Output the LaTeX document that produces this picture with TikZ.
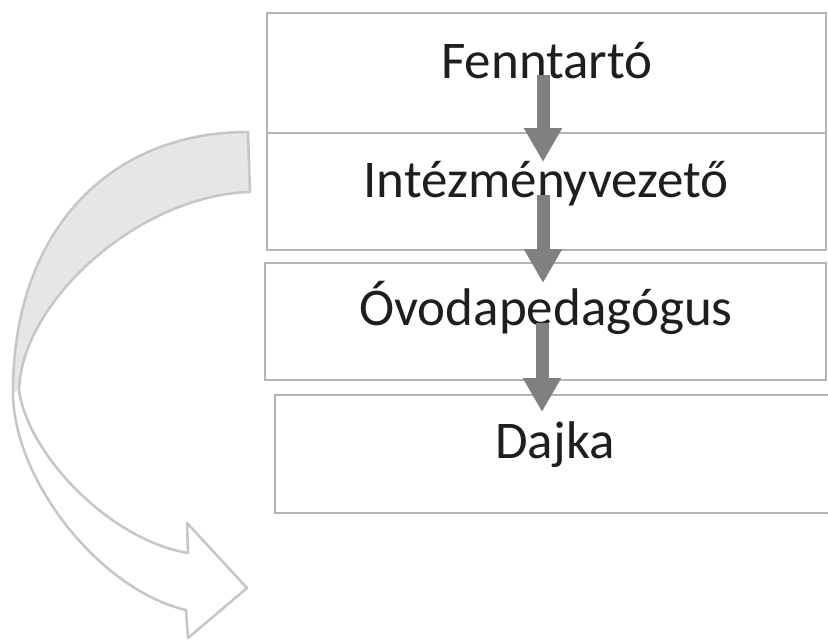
\documentclass[tikz,border=0pt]{standalone}
\usepackage{fontspec}
\setmainfont{Carlito}
\usetikzlibrary{arrows.meta,calc}
\definecolor{boxline}{HTML}{B4B4B4}
\definecolor{arrgray}{HTML}{808080}
\definecolor{curveline}{HTML}{C6C6C6}
\definecolor{bandfill}{HTML}{E6E6E6}
\definecolor{txt}{HTML}{1E1E1E}
\tikzset{
  levelbox/.style={draw=boxline, line width=2.6pt, fill=white, inner sep=0pt},
  leveltext/.style={font=\fontsize{53}{60}\selectfont, text=txt, anchor=base, inner sep=0pt},
  downarr/.style={draw=arrgray, line width=13pt, -{Triangle[width=36pt,length=34pt]}},
  curvearrow/.style={draw=curveline, line width=2.5pt, line join=round}
}
\begin{document}
\begin{tikzpicture}[x=1pt,y=-1pt]
\useasboundingbox (0,0) rectangle (828,642);
\clip (0,0) rectangle (828,642);
\fill[white] (0,0) rectangle (828,642);

% curved arrow
\fill[white] (248,132) .. controls (110,132) and (13,230) .. (13,392)
  .. controls (13,480) and (100,590) .. (186,610) -- (188,638) -- (247,588)
  -- (187,523) -- (188,553) .. controls (110,540) and (28,455) .. (19,390)
  .. controls (22,300) and (140,195) .. (250,192) -- cycle;
\fill[bandfill] (248,132) .. controls (110,132) and (13,230) .. (13,392)
  -- (19,390) .. controls (22,300) and (140,195) .. (250,192) -- cycle;
\draw[curvearrow] (248,132) .. controls (110,132) and (13,230) .. (13,392)
  .. controls (13,480) and (100,590) .. (186,610) -- (188,638) -- (247,588)
  -- (187,523) -- (188,553) .. controls (110,540) and (28,455) .. (19,390)
  .. controls (22,300) and (140,195) .. (250,192) -- cycle;

% boxes
\node[levelbox, minimum width=559pt, minimum height=120pt] (b1) at (546.5,73) {};
\node[levelbox, minimum width=559pt, minimum height=117pt] (b2) at (546.5,191.5) {};
\node[levelbox, minimum width=561pt, minimum height=117pt] (b3) at (545.5,321.5) {};
\node[levelbox, minimum width=580pt, minimum height=118pt] (b4) at (565,454) {};

% texts
\node[leveltext] (t1) at (547,78) {Fenntartó};
\node[leveltext] (t2) at (546,197) {Intézményvezető};
\node[leveltext] (t3) at (546,325) {Óvodapedagógus};
\node[leveltext] (t4) at (555,458) {Dajka};

% connectors
\coordinate (s1) at (543,75);
\coordinate (e1) at (543,162);
\coordinate (s2) at (543,195);
\coordinate (e2) at (543,283);
\coordinate (s3) at (542,323);
\coordinate (e3) at (542,412);
\draw[downarr] (s1) -- (e1);
\draw[downarr] (s2) -- (e2);
\draw[downarr] (s3) -- (e3);
\end{tikzpicture}
\end{document}
